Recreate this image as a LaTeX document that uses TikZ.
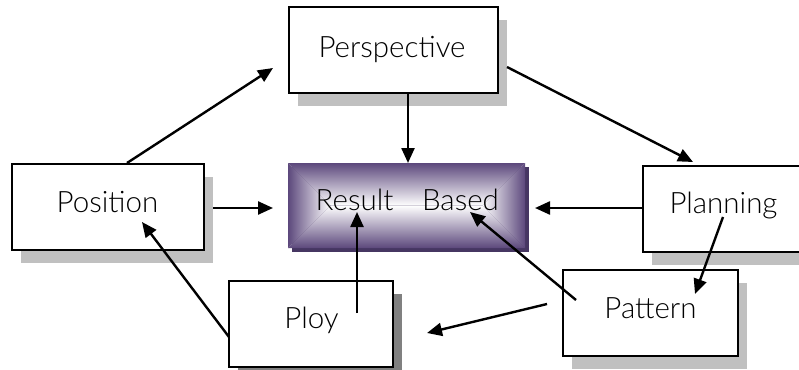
\documentclass[tikz,border=0pt]{standalone}
\usepackage{fontspec}
\setmainfont{Lato}[UprightFont = * Light]
\usetikzlibrary{arrows.meta}
\definecolor{shadowgray}{RGB}{192,192,192}
\definecolor{darkshadow}{RGB}{128,128,128}
\definecolor{boxpurple}{RGB}{92,72,124}
\definecolor{deeppurple}{RGB}{70,54,98}
\tikzset{
  box/.style={draw=black, line width=1.6pt, fill=white, inner sep=0pt},
  lbl/.style={font=\fontsize{29.5}{32}\selectfont, anchor=base, inner sep=0pt},
  conn/.style={line width=2.4pt, -{Triangle[length=15pt,width=13pt]}},
}
\newcommand{\shadowbox}[6]{%
  % #1 name, #2 left, #3 top, #4 right, #5 bottom, #6 shadow colour
  \fill[#6] (#2+9,#3+13) rectangle (#4+9,#5+13);
  \node[box, minimum width=#4-#2, minimum height=#5-#3] (#1) at ({(#2+#4)/2},{(#3+#5)/2}) {};
}
\begin{document}
\begin{tikzpicture}[x=1pt,y=-1pt]
  \clip (0,0) rectangle (799,369);
  \fill[white] (0,0) rectangle (799,369);

  % outer boxes with drop shadows
  \shadowbox{persp}{289}{7}{498}{93}{shadowgray}
  \shadowbox{posit}{12}{164}{204}{250}{shadowgray}
  \shadowbox{plann}{643}{166}{812}{252}{shadowgray}
  \shadowbox{patt}{563}{270}{738}{356}{shadowgray}
  \shadowbox{ploy}{229}{281}{393}{367}{darkshadow}

  % central box: rectangular purple-to-white gradient
  \fill[deeppurple] (292,167) rectangle (529,252);
  \begin{scope}
    \shade[top color=boxpurple, middle color=boxpurple!30!white, bottom color=white] (288,163) -- (525,163) -- (482.5,205.5) -- (330.5,205.5) -- cycle;
    \shade[bottom color=boxpurple, middle color=boxpurple!30!white, top color=white] (288,248) -- (525,248) -- (482.5,205.5) -- (330.5,205.5) -- cycle;
    \shade[left color=boxpurple, middle color=boxpurple!30!white, right color=white] (288,163) -- (330.5,205.5) -- (288,248) -- cycle;
    \shade[right color=boxpurple, middle color=boxpurple!30!white, left color=white] (525,163) -- (482.5,205.5) -- (525,248) -- cycle;
  \end{scope}
  \node[minimum width=237pt, minimum height=85pt, inner sep=0pt] (core) at (406.5,205.5) {};

  % labels
  \node[lbl] (tpersp) at (392,57) {Perspective};
  \node[lbl] (tposit) at (107.5,212) {Position};
  \node[lbl] (tres) at (354.5,210) {Result};
  \node[lbl] (tbas) at (460.5,210) {Based};
  \node[lbl] (tplann) at (723.5,213) {Planning};
  \node[lbl] (tpatt) at (650.5,318) {Pattern};
  \node[lbl] (tploy) at (311.5,328) {Ploy};

  % connector end points
  \coordinate (a1) at (127,163);  \coordinate (b1) at (273,68);
  \coordinate (a2) at (507,67);   \coordinate (b2) at (693,162);
  \coordinate (a3) at (408,93);   \coordinate (b3) at (408,163);
  \coordinate (a4) at (213,208);  \coordinate (b4) at (273,208);
  \coordinate (a5) at (643,208);  \coordinate (b5) at (535,208);
  \coordinate (a6) at (723,217);  \coordinate (b6) at (695,294);
  \coordinate (a7) at (576,300);  \coordinate (b7) at (470,212);
  \coordinate (a8) at (357,313);  \coordinate (b8) at (357,212);
  \coordinate (a9) at (229,337);  \coordinate (b9) at (142,222);
  \coordinate (a10) at (547,304); \coordinate (b10) at (427,333);

  \draw[conn] (a1) -- (b1);
  \draw[conn] (a2) -- (b2);
  \draw[conn] (a3) -- (b3);
  \draw[conn] (a4) -- (b4);
  \draw[conn] (a5) -- (b5);
  \draw[conn] (a6) -- (b6);
  \draw[conn] (a7) -- (b7);
  \draw[conn] (a8) -- (b8);
  \draw[conn] (a9) -- (b9);
  \draw[conn] (a10) -- (b10);
\end{tikzpicture}
\end{document}
